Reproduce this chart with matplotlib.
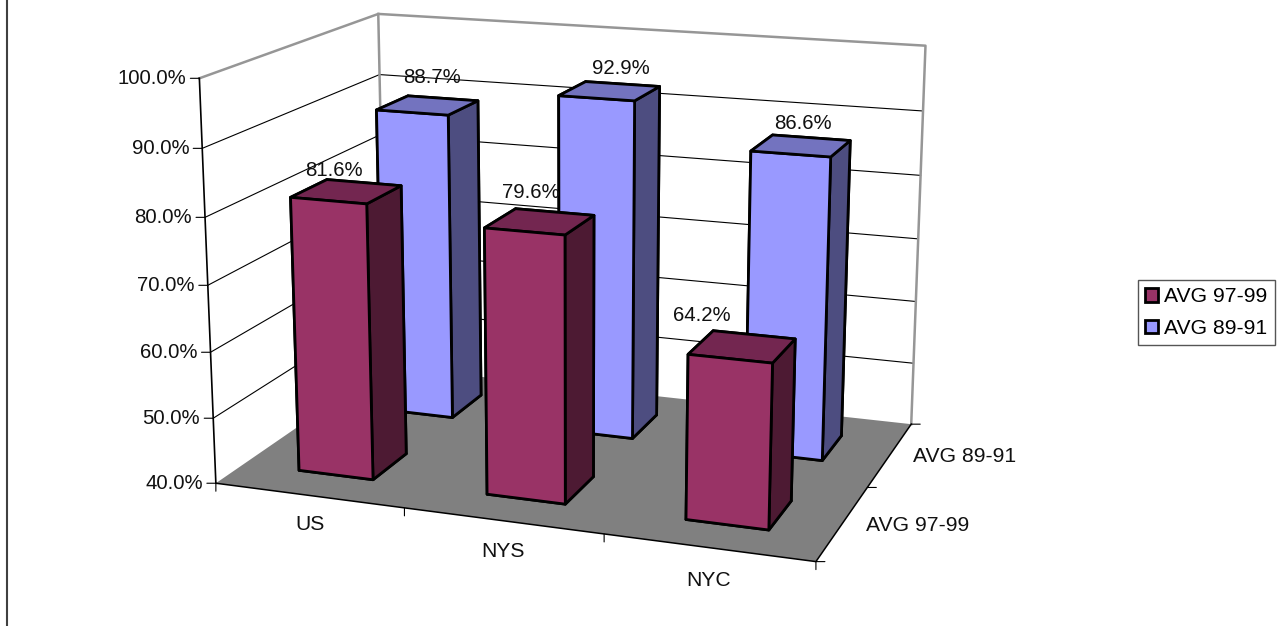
import numpy as np
import matplotlib
matplotlib.use("Agg")
import matplotlib.pyplot as plt
from matplotlib.lines import Line2D
from matplotlib.patches import Patch
from mpl_toolkits.mplot3d import proj3d
from mpl_toolkits.mplot3d.art3d import Poly3DCollection

plt.rcParams['font.family'] = ['Liberation Sans', 'DejaVu Sans']

# data
categories = ["US", "NYS", "NYC"]
series_names = ["AVG 97-99", "AVG 89-91"]
avg_97_99 = [81.6, 79.6, 64.2]
avg_89_91 = [88.7, 92.9, 86.6]
z_ticks = [40, 50, 60, 70, 80, 90, 100]

# label nudges in pixels from the top of each bar
offs_97_99 = [(-12, 21), (-9, 29), (-40, 31)]
offs_89_91 = [(4, 28), (11, 23), (2, 22)]
offs_cat = [(1, -29), (0, -31), (0, -33)]

W, H = 1283, 626
FS = 14.7
FS_TXT = 15.2
BAR = 0.4

# bottom, top, front, back, left, right shades of each series
red_faces = ["#4d1a33", "#732650", "#993366", "#993366", "#4d1a33", "#4d1a33"]
blue_faces = ["#4d4d80", "#7373bf", "#9999ff", "#9999ff", "#4d4d80", "#4d4d80"]
grey = "#969696"

fig = plt.figure(figsize=(W / 100, H / 100), dpi=100, facecolor="white")
ax = fig.add_axes([158.89 / W, -52.24 / H, 812.05 / W, 812.05 / H], projection="3d", computed_zorder=False)
ax.view_init(14.876, -70.30, 0)
ax.set_proj_type("persp", focal_length=0.5483)
ax.set_box_aspect((1.5002, 1.0114, 1.0))
nx, ny = len(categories), len(series_names)
zmin, zmax = z_ticks[0], z_ticks[-1]
ax.set_xlim(0, nx)
ax.set_ylim(0, ny)
ax.set_zlim(zmin, zmax)
ax.set_axis_off()
M = ax.get_proj()


def place(x, y, z, text="", dx=0, dy=0, size=FS, **kw):
    # text or tick placed a few pixels away from a point of the 3d box
    u, v, _ = proj3d.proj_transform(x, y, z, M)
    return ax.annotate(text, xy=(u, v), xytext=(dx, dy), textcoords="offset pixels", zorder=7, fontsize=size,
                       color="#111111", **kw)


def tick(x, y, z, dx, dy):
    place(x, y, z, dx=dx, dy=dy, arrowprops=dict(arrowstyle="-", color="black", lw=0.8, shrinkA=0, shrinkB=0))


# floor
floor = Poly3DCollection([[(0, 0, zmin), (nx, 0, zmin), (nx, ny, zmin), (0, ny, zmin)]],
                         facecolors="#808080", edgecolors="none", zorder=1)
ax.add_collection3d(floor)

# gridlines on the two walls
for z in z_ticks[1:-1]:
    ax.plot([0, 0, nx], [0, ny, ny], [z, z, z], color="black", lw=0.8, zorder=2)

# wall outline
ax.plot([0, 0, nx, nx], [0, ny, ny, ny], [zmax, zmax, zmax, zmin], color=grey, lw=1.8, zorder=2)
ax.plot([0, 0], [ny, ny], [zmin, zmax], color=grey, lw=1.8, zorder=2)

# axis lines
ax.plot([0, 0], [0, 0], [zmin, zmax], color="black", lw=1.2, zorder=2.5)
ax.plot([0, nx, nx], [0, 0, ny], [zmin, zmin, zmin], color="black", lw=1.1, zorder=2.5)

xpos = np.arange(nx) + (1 - BAR) / 2
for vals, row, faces, zo in [(avg_89_91, 1, blue_faces, 3), (avg_97_99, 0, red_faces, 4)]:
    ypos = np.full(nx, row + (1 - BAR) / 2)
    ax.bar3d(xpos, ypos, np.full(nx, zmin), BAR, BAR, np.array(vals) - zmin,
             color=faces * nx, edgecolor="black", linewidth=2.0, shade=False, zorder=zo)

# value labels
for vals, row, offs in [(avg_89_91, 1, offs_89_91), (avg_97_99, 0, offs_97_99)]:
    for i, v in enumerate(vals):
        place(i + 0.5, row + 0.5, v, f"{v:.1f}%", offs[i][0], offs[i][1], ha="center", va="center")

# value axis
for z in z_ticks:
    place(0, 0, z, f"{z:.1f}%", -13, 0, ha="right", va="center")
    tick(0, 0, z, -9, 0)
tick(0, 0, zmin, 0, -8)

# category axis
for i, c in enumerate(categories):
    place(i + 0.5, 0, zmin, c, offs_cat[i][0], offs_cat[i][1], size=FS_TXT, ha="center", va="center")
for i in range(1, nx + 1):
    tick(i, 0, zmin, 0, -8)

# series axis
for j, s in enumerate(series_names):
    place(nx, j + 0.5, zmin, s, 23, -2, size=FS_TXT, ha="left", va="center")
for j in range(ny + 1):
    tick(nx, j, zmin, 9, 0)

leg = fig.legend(handles=[Patch(facecolor=red_faces[2], edgecolor="black", linewidth=2.0, label=series_names[0]),
                          Patch(facecolor=blue_faces[2], edgecolor="black", linewidth=2.0, label=series_names[1])],
                 loc="center", bbox_to_anchor=(1206.5 / W, 1 - 312.5 / H), fontsize=FS_TXT, handlelength=0.62,
                 handleheight=0.62, handletextpad=0.28, labelspacing=0.6, borderpad=0.36, borderaxespad=0,
                 fancybox=False, framealpha=1, edgecolor="#555555")
leg.get_frame().set_linewidth(1.0)

# edge of the original chart frame
fig.add_artist(Line2D([7 / W, 7 / W], [0, 1], color="#404040", lw=1.5))

fig.savefig("out.png", dpi=100)
